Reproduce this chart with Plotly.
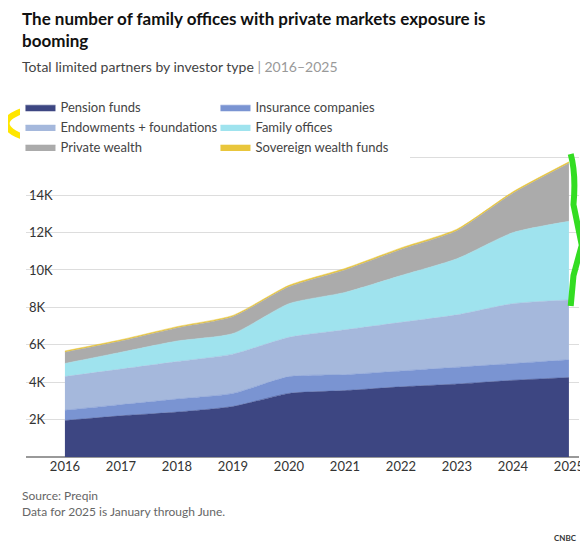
import plotly.graph_objects as go

years = [2016, 2017, 2018, 2019, 2020, 2021, 2022, 2023, 2024, 2025]

# layer sizes (thousands of LPs)
pension = [1.95, 2.2, 2.4, 2.7, 3.4, 3.55, 3.75, 3.9, 4.1, 4.25]
insurance = [0.55, 0.6, 0.7, 0.7, 0.9, 0.85, 0.85, 0.9, 0.9, 0.95]
endowments = [1.8, 1.9, 2.0, 2.1, 2.1, 2.4, 2.6, 2.8, 3.2, 3.2]
family = [0.7, 0.9, 1.1, 1.1, 1.8, 2.0, 2.5, 3.0, 3.8, 4.2]
private_wealth = [0.6, 0.6, 0.7, 0.9, 0.9, 1.2, 1.4, 1.5, 2.1, 3.1]
sovereign = [0.07, 0.07, 0.07, 0.07, 0.08, 0.08, 0.08, 0.08, 0.08, 0.08]

series = [
    ("Pension funds", pension, "#3d4682"),
    ("Insurance companies", insurance, "#7a94d2"),
    ("Endowments + foundations", endowments, "#a5b8dc"),
    ("Family offices", family, "#9fe3ee"),
    ("Private wealth", private_wealth, "#ababab"),
    ("Sovereign wealth funds", sovereign, "#e9c63c"),
]

fig = go.Figure()
for name, vals, color in series:
    fig.add_trace(go.Scatter(
        x=years, y=[v * 1000 for v in vals], name=name, stackgroup="one",
        mode="lines", line=dict(width=0.5, color=color, shape="spline", smoothing=0.6),
        fillcolor=color,
    ))

H = 299  # plot height in px, used to place paper-relative texts


def py(pix):
    return (449 - pix) / H


fig.update_layout(
    width=588, height=544,
    margin=dict(l=18, r=14, t=146, b=95),
    plot_bgcolor="white", paper_bgcolor="white",
    font=dict(family="Lato, sans-serif", size=13, color="#333"),
    showlegend=True,
    legend=dict(orientation="h", x=-0.01, y=py(89), xanchor="left", yanchor="top",
                font=dict(size=13, color="#444"), traceorder="normal",
                entrywidth=150, entrywidthmode="pixels", tracegroupgap=0),
    xaxis=dict(range=[2015.305, 2025.18], tickvals=years, showgrid=False,
               showline=False, ticks="", tickfont=dict(size=13, color="#333")),
    yaxis=dict(range=[0, 16200], tickvals=list(range(0, 16001, 2000)),
               ticktext=["0", "2K", "4K", "6K", "8K", "10K", "12K", "14K", "16K"],
               ticklabelposition="inside", gridcolor="#dddddd",
               zeroline=True, zerolinecolor="#999", tickfont=dict(size=13, color="#333")),
)

fig.add_annotation(xref="paper", yref="paper", x=-0.01, y=py(4),
                   xanchor="left", yanchor="top", showarrow=False, align="left",
                   text="<b>The number of family offices with private markets exposure is<br>booming</b>",
                   font=dict(size=17, color="#111"))
fig.add_annotation(xref="paper", yref="paper", x=-0.01, y=py(53),
                   xanchor="left", yanchor="top", showarrow=False,
                   text="Total limited partners by investor type <span style='color:#999'>| 2016–2025</span>",
                   font=dict(size=14, color="#444"))
fig.add_annotation(xref="paper", yref="paper", x=-0.01, y=py(478),
                   xanchor="left", yanchor="top", showarrow=False, align="left",
                   text="Source: Preqin<br>Data for 2025 is January through June.",
                   font=dict(size=12, color="#666"))
fig.add_annotation(xref="paper", yref="paper", x=1.0, y=py(522),
                   xanchor="right", yanchor="top", showarrow=False,
                   text="<b>CNBC</b>", font=dict(size=8, color="#333"))

# hand-drawn highlights
fig.add_shape(type="circle", xref="paper", yref="paper", x0=-0.035, x1=0.215, y0=py(140), y1=py(100),
              line=dict(color="#ffe600", width=6))
fig.add_shape(type="circle", xref="paper", yref="paper", x0=0.215, x1=0.455, y0=py(140), y1=py(100),
              line=dict(color="#ffe600", width=6))
fig.add_shape(type="path", xref="paper", yref="paper",
              path=f"M 0.985 {py(150)} Q 0.995 {py(170)} 0.99 {py(200)} L 1.005 {py(240)} "
                   f"L 0.99 {py(270)} L 0.985 {py(300)}",
              line=dict(color="#33dd22", width=6))

fig.write_html("out.html")
